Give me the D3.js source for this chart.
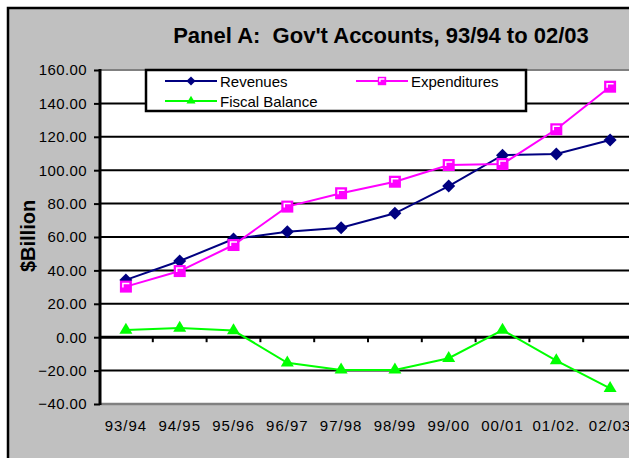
<!DOCTYPE html>
<html><head><meta charset="utf-8">
<script src="https://cdn.jsdelivr.net/npm/d3@7"></script>
<style>body{margin:0;background:#fff}svg{display:block}text{font-family:Arial,"Liberation Sans",sans-serif}</style>
</head><body>
<script>
const categories = ["93/94","94/95","95/96","96/97","97/98","98/99","99/00","00/01","01/02.","02/03"];
const revenues = [34.3,45.6,58.8,63.2,65.6,74.2,90.5,109.0,109.7,118.1];
const expenditures = [30.3,39.6,55.2,78.2,86.2,93.1,103.1,103.7,124.5,150.0];
const fiscalBalance = [4.3,5.5,4.0,-15.3,-19.6,-19.6,-12.6,4.3,-14.0,-30.6];
const yTicks = [-40,-20,0,20,40,60,80,100,120,140,160];
const seriesNames = ["Revenues","Expenditures","Fiscal Balance"];

const W=629,H=458;
const svg=d3.select("body").append("svg").attr("width",W).attr("height",H);
// chart area background + border
svg.append("rect").attr("x",0).attr("y",0).attr("width",W).attr("height",H).attr("fill","#fff");
svg.append("rect").attr("x",8).attr("y",8).attr("width",W).attr("height",H).attr("fill","#c0c0c0")
  .attr("stroke","#000").attr("stroke-width",2.5);

const x=d3.scaleBand().domain(categories).range([99,637]).padding(0);
const y=d3.scaleLinear().domain([-40,160]).range([404,70]);
const cx=d=>x(d)+x.bandwidth()/2;

// plot area
svg.append("rect").attr("x",100).attr("y",70).attr("width",W).attr("height",334).attr("fill","#fff");
svg.append("line").attr("x1",100).attr("x2",W).attr("y1",70).attr("y2",70).attr("stroke","#808080").attr("stroke-width",2);
svg.append("line").attr("x1",100).attr("x2",W).attr("y1",404).attr("y2",404).attr("stroke","#808080").attr("stroke-width",2.5);

// gridlines
svg.append("g").selectAll("line").data(yTicks.filter(t=>t!==-40&&t!==160&&t!==0)).join("line")
  .attr("x1",100).attr("x2",W).attr("y1",d=>y(d)).attr("y2",d=>y(d)).attr("stroke","#000").attr("stroke-width",2);

// y axis
const yAxis=d3.axisLeft(y).tickValues(yTicks).tickFormat(d3.format(".2f")).tickSize(6).tickPadding(7);
const gy=svg.append("g").attr("transform","translate(100,0)").call(yAxis);
gy.select(".domain").remove();
gy.selectAll(".tick line").attr("stroke","#000").attr("stroke-width",2);
gy.selectAll(".tick text").attr("font-size",15).attr("fill","#000").attr("letter-spacing",0.4)
  .attr("font-family","Arial,'Liberation Sans',sans-serif");
svg.append("line").attr("x1",100).attr("x2",100).attr("y1",69).attr("y2",405).attr("stroke","#000").attr("stroke-width",3);

// zero line with category ticks
svg.append("line").attr("x1",100).attr("x2",W).attr("y1",y(0)).attr("y2",y(0)).attr("stroke","#000").attr("stroke-width",3);
svg.append("g").selectAll("line").data(categories.slice(1)).join("line")
  .attr("x1",d=>x(d)).attr("x2",d=>x(d)).attr("y1",y(0)).attr("y2",y(0)+5).attr("stroke","#000").attr("stroke-width",2);

// x labels
const xAxis=d3.axisBottom(x).tickSize(0).tickPadding(0);
const gx=svg.append("g").attr("transform","translate(0,420)").call(xAxis);
gx.select(".domain").remove();
gx.selectAll(".tick text").attr("font-size",15).attr("fill","#000").attr("letter-spacing",1)
  .attr("font-family","Arial,'Liberation Sans',sans-serif");

// title
svg.append("text").attr("x",381).attr("y",43).attr("text-anchor","middle").attr("font-size",22)
  .attr("font-weight","bold").style("white-space","pre").text("Panel A:  Gov't Accounts, 93/94 to 02/03");
// y title
svg.append("text").attr("transform","translate(35,236) rotate(-90)").attr("text-anchor","middle")
  .attr("font-size",20).attr("font-weight","bold").text("$Billion");

const line=d3.line().x((d,i)=>cx(categories[i])).y(d=>y(d));
const colors=["#000080","#ff00ff","#00ff00"];
const allSeries=[revenues,expenditures,fiscalBalance];
allSeries.forEach((s,k)=>{
  svg.append("path").datum(s).attr("d",line).attr("fill","none").attr("stroke",colors[k]).attr("stroke-width",2);
});
function drawMarker(g,k,px,py,sc){
  if(k===0){
    const r=6.5*sc;
    g.append("path").attr("d",`M${px},${py-r}L${px+r},${py}L${px},${py+r}L${px-r},${py}Z`).attr("fill",colors[0]);
  } else if(k===1){
    const h=6*sc;
    g.append("rect").attr("x",px-h).attr("y",py-h).attr("width",2*h).attr("height",2*h).attr("fill",colors[1]);
    g.append("path").attr("d",`M${px-h+3*sc},${py+1*sc}V${py-h+3*sc}H${px+h-2.5*sc}`).attr("fill","none")
      .attr("stroke","#fff").attr("stroke-width",1.5);
  } else {
    const w=6.5*sc,hh=11*sc;
    g.append("path").attr("d",`M${px},${py-hh*2/3}L${px+w},${py+hh/3}L${px-w},${py+hh/3}Z`).attr("fill",colors[2]);
  }
}
const mg=svg.append("g");
allSeries.forEach((s,k)=>{
  s.forEach((v,i)=>drawMarker(mg,k,cx(categories[i]),y(v),1));
});

// legend
const lg=svg.append("g");
lg.append("rect").attr("x",146).attr("y",70).attr("width",380).attr("height",41).attr("fill","#fff")
  .attr("stroke","#000").attr("stroke-width",2.5);
const legPos=[[165,81],[356,81],[165,101]];
seriesNames.forEach((n,k)=>{
  const [lx,ly]=legPos[k];
  lg.append("line").attr("x1",lx).attr("x2",lx+52).attr("y1",ly).attr("y2",ly).attr("stroke",colors[k]).attr("stroke-width",2);
  drawMarker(lg,k,lx+26,ly,0.7);
  lg.append("text").attr("x",lx+55).attr("y",ly+5.5).attr("font-size",15).attr("fill","#000").text(n);
});
</script>
</body></html>
